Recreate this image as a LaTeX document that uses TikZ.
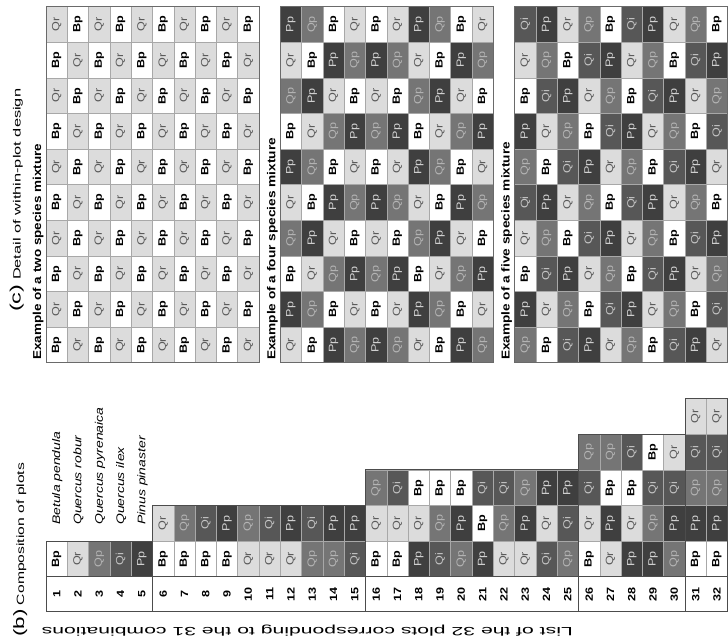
\documentclass[tikz,border=0pt]{standalone}
\usepackage{fontspec}
\setmainfont{Liberation Sans}
\usepackage{xcolor}
\usepackage{graphicx}
\usepackage{tikz}
\usetikzlibrary{positioning}

% species colours (fill c.., text t..)
\definecolor{cBp}{HTML}{FFFFFF}
\definecolor{tBp}{HTML}{000000}
\definecolor{cQr}{HTML}{DCDCDC}
\definecolor{tQr}{HTML}{5A5A5A}
\definecolor{cQp}{HTML}{757575}
\definecolor{tQp}{HTML}{B4B4B4}
\definecolor{cQi}{HTML}{575757}
\definecolor{tQi}{HTML}{C4C4C4}
\definecolor{cPp}{HTML}{3F3F3F}
\definecolor{tPp}{HTML}{D4D4D4}
\definecolor{gridline}{HTML}{A8A8A8}
\definecolor{frameline}{HTML}{6A6A6A}

\newcommand{\fBp}{\bfseries}
\newcommand{\fQr}{}
\newcommand{\fQp}{}
\newcommand{\fQi}{}
\newcommand{\fPp}{}
\newcommand{\cellw}{21.3}
\newcommand{\cellh}{35.6}
% name, left, top, species
\newcommand{\plotcell}[4]{%
  \node[cell, fill=c#4, text=t#4] (#1) at ({#2+0.5*\cellw},{#3+0.5*\cellh})
    {\csname f#4\endcsname\scalebox{1.2}[1]{#4}};}

\begin{document}
\begin{tikzpicture}[
    x=1pt, y=-1pt,
    cell/.style={
        rectangle,
        draw=gridline,
        line width=0.5pt,
        inner sep=0pt,
        rotate=90,
        minimum width=35.6pt,
        minimum height=21.3pt,
        font=\fontsize{10.5}{12}\selectfont
    },
    numlabel/.style={
        rotate=90,
        inner sep=0pt,
        font=\fontsize{10.5}{12}\selectfont\bfseries
    },
    title/.style={
        rotate=90,
        anchor=base west,
        inner sep=0pt,
        font=\fontsize{10.5}{12}\selectfont
    },
    gridframe/.style={draw=frameline, line width=0.9pt},
    groupframe/.style={draw=black!70, line width=0.9pt}
]
\useasboundingbox (0,0) rectangle (728,640);
\fill[white] (0,0) rectangle (728,640);

% (c) two species mixture
\foreach \r in {0,...,9}{
  \ifodd\r\relax
    \def\row{Bp,Qr,Bp,Qr,Bp,Qr,Bp,Qr,Bp,Qr}
  \else
    \def\row{Qr,Bp,Qr,Bp,Qr,Bp,Qr,Bp,Qr,Bp}
  \fi
  \foreach [count=\c from 0] \s in \row
    {\plotcell{two-\r-\c}{46+\c*\cellw}{6.7+\r*\cellh}{\s}}
}

% (c) four species mixture
\foreach \r in {0,...,9}{
  \pgfmathtruncatemacro\k{mod(\r,4)}
  \ifcase\k
    \def\row{Pp,Qp,Bp,Qr,Bp,Qr,Pp,Qp,Bp,Qr}
  \or
    \def\row{Qr,Bp,Pp,Qp,Pp,Qp,Qr,Bp,Pp,Qp}
  \or
    \def\row{Qp,Pp,Qr,Bp,Qr,Bp,Qp,Pp,Qr,Bp}
  \or
    \def\row{Bp,Qr,Qp,Pp,Qp,Pp,Bp,Qr,Qp,Pp}
  \fi
  \foreach [count=\c from 0] \s in \row
    {\plotcell{four-\r-\c}{280.3+\c*\cellw}{6.7+\r*\cellh}{\s}}
}

% (c) five species mixture
\foreach \r in {0,...,9}
  \foreach \c in {0,...,9}{
    \pgfmathtruncatemacro\k{mod(\c+2*\r,5)}
    \edef\s{\ifcase\k Qi\or Pp\or Qr\or Qp\or Bp\fi}
    \plotcell{five-\r-\c}{514.6+\c*\cellw}{6.7+\r*\cellh}{\s}
  }

\foreach \x in {46,280.3,514.6}
  \draw[gridframe] (\x,6.7) rectangle ++(10*\cellw,10*\cellh);

% (b) composition of the 32 plots
\foreach [count=\i] \combo in {
    {Bp},{Qr},{Qp},{Qi},{Pp},
    {Bp,Qr},{Bp,Qp},{Bp,Qi},{Bp,Pp},{Qr,Qp},
    {Qr,Qi},{Qr,Pp},{Qp,Qi},{Qp,Pp},{Qi,Pp},
    {Bp,Qr,Qp},{Bp,Qr,Qi},{Pp,Qr,Bp},{Qi,Qp,Bp},{Qp,Pp,Bp},
    {Pp,Bp,Qi},{Qr,Qp,Qi},{Qr,Pp,Qp},{Qi,Qr,Pp},{Qp,Qi,Pp},
    {Bp,Qr,Qi,Qp},{Qr,Pp,Bp,Qp},{Pp,Qr,Bp,Qi},{Pp,Qp,Qi,Bp},{Qp,Pp,Qi,Qr},
    {Bp,Pp,Qp,Qi,Qr},{Bp,Pp,Qp,Qi,Qr}}{
  \node[numlabel] (num\i) at ({46+(\i-0.5)*\cellw},594.2) {\scalebox{1.2}[1]{\i}};
  \foreach [count=\k] \s in \combo
    {\plotcell{plot\i-\k}{46+(\i-1)*\cellw}{576.7-\k*\cellh}{\s}}
}

\foreach \a/\b/\n in {1/5/1,6/15/2,16/25/3,26/30/4,31/32/5}{
  \draw[groupframe] ({46+(\a-1)*\cellw},611.7) rectangle ({46+\b*\cellw},{576.7-\n*\cellh});
  \draw[groupframe] ({46+(\a-1)*\cellw},576.7) -- ({46+\b*\cellw},576.7);
}

% species names
\foreach [count=\i] \name in {Betula pendula,Quercus robur,Quercus pyrenaica,Quercus ilex,Pinus pinaster}
  \node[title, font=\fontsize{11}{13}\selectfont\itshape] (name\i) at ({46+(\i-0.5)*\cellw+3.5},525)
    {\scalebox{1.27}[1]{\name}};

% titles
\node[title] (ctitle) at (20.7,312)
  {\resizebox{223pt}{\height}{{\fontsize{15}{15}\selectfont(c)} Detail of within-plot design}};
\node[title, font=\fontsize{11.5}{13}\selectfont\bfseries] (twotitle) at (41,360)
  {\resizebox{216pt}{\height}{Example of a two species mixture}};
\node[title, font=\fontsize{11.5}{13}\selectfont\bfseries] (fourtitle) at (275.3,360)
  {\resizebox{222pt}{\height}{Example of a four species mixture}};
\node[title, font=\fontsize{11.5}{13}\selectfont\bfseries] (fivetitle) at (509.6,360)
  {\resizebox{218pt}{\height}{Example of a five species mixture}};
\node[title] (btitle) at (24,637)
  {\resizebox{174pt}{\height}{{\fontsize{15}{15}\selectfont(b)} Composition of plots}};
\node[title, rotate=90, font=\fontsize{12}{14}\selectfont] (listtitle) at (573,627.5)
  {\resizebox{531pt}{\height}{List of the 32 plots corresponding to the 31 combinations}};

\end{tikzpicture}
\end{document}
